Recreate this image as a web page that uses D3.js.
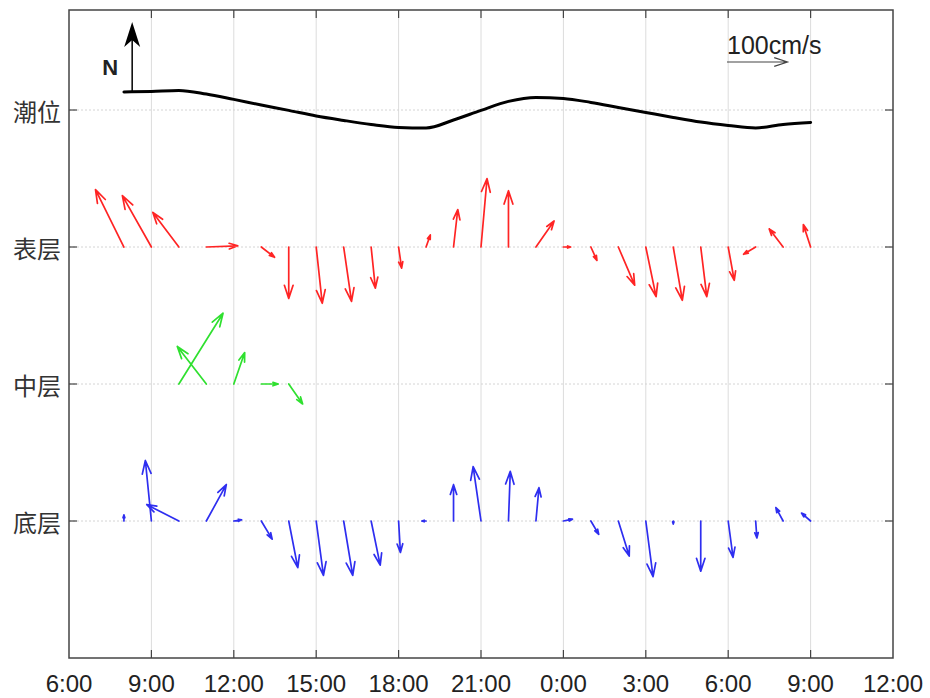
<!DOCTYPE html>
<html>
<head>
<meta charset="utf-8">
<script src="https://cdn.jsdelivr.net/npm/d3@7"></script>
<style>
  html, body { margin: 0; padding: 0; background: #fff; }
  svg { display: block; }
</style>
</head>
<body>
<svg id="chart" width="930" height="698"></svg>
<script>
// ---------------- DATA ----------------
// time ticks (hours from 0:00 of day 1)
const tickHours = [6, 9, 12, 15, 18, 21, 24, 27, 30, 33, 36];
const tickLabels = ["6:00", "9:00", "12:00", "15:00", "18:00", "21:00", "0:00", "3:00", "6:00", "9:00", "12:00"];

// row categories
const rowLabels = ["潮位", "表层", "中层", "底层"];
const rowLevels = [4, 3, 2, 1];

// observation hours (8:00 day 1 ... 9:00 day 2)
const obsHours = [8, 9, 10, 11, 12, 13, 14, 15, 16, 17, 18, 19, 20, 21, 22, 23, 24, 25, 26, 27, 28, 29, 30, 31, 32, 33];

// tide level (m)
const tideLevel = [3.40, 3.43, 3.48, 3.30, 3.03, 2.75, 2.48, 2.20, 1.98, 1.78, 1.63, 1.60, 2.00, 2.48, 2.93, 3.13,
                   3.08, 2.88, 2.63, 2.38, 2.13, 1.90, 1.73, 1.60, 1.78, 1.88];

// surface layer current, east (u) and north (v) components, cm/s
const surfaceU = [-47, -48, -43, 52, null, 22, 0, 10, 13, 7, 5, 7, 7, 10, 0, 30, 12, 10, 27, 17, 15, 10, 10, -20, -23, -12];
const surfaceV = [95, 85, 57, 2, null, -17, -85, -93, -90, -68, -35, 20, 62, 113, 93, 43, 0, -22, -63, -82, -88, -82, -55, -12, 30, 37];

// middle layer current, cm/s
const middleU = [null, null, 73, -48, 18, 28, 23, null, null, null, null, null, null, null, null, null, null, null, null, null, null, null, null, null, null, null];
const middleV = [null, null, 117, 62, 52, 0, -33, null, null, null, null, null, null, null, null, null, null, null, null, null, null, null, null, null, null, null];

// bottom layer current, cm/s
const bottomU = [0, -10, -53, 33, 13, 18, 15, 12, 15, 15, 3, -7, 0, -13, 3, 5, 15, 13, 18, 12, 0, 0, 8, 2, -12, -15];
const bottomV = [10, 100, 27, 60, 2, -30, -77, -90, -90, -73, -52, 0, 60, 90, 82, 55, 3, -22, -58, -92, -5, -83, -60, -28, 22, 13];

const refSpeed = 100; // cm/s scale arrow

// ---------------- SCALES ----------------
const pL = 69, pR = 893, pT = 10, pB = 658;
const svg = d3.select("#chart");

const x = d3.scaleLinear().domain([6, 36]).range([pL, pR]);
const y = d3.scaleLinear().domain([0, 4.73]).range([pB, pT]);
const speed = d3.scaleLinear().domain([0, 100]).range([0, 60.5]);
const tideY = d3.scaleLinear().domain([1, 4]).range([140, 80]);

// ---------------- GRID ----------------
const g = svg.append("g");
g.selectAll("line.vgrid").data(tickHours.slice(1, -1)).join("line")
  .attr("x1", d => x(d)).attr("x2", d => x(d))
  .attr("y1", pT).attr("y2", pB)
  .attr("stroke", "#dcdcdc").attr("stroke-width", 1);
g.append("g").selectAll("line").data(rowLevels).join("line")
  .attr("x1", pL).attr("x2", pR)
  .attr("y1", d => y(d)).attr("y2", d => y(d))
  .attr("stroke", "#d4d4d4").attr("stroke-width", 1).attr("stroke-dasharray", "2,2");

// ---------------- TIDE LINE ----------------
const tidePts = obsHours.map((h, i) => [x(h), tideY(tideLevel[i])]);
g.append("path")
  .attr("d", d3.line().curve(d3.curveMonotoneX)(tidePts))
  .attr("fill", "none").attr("stroke", "#000").attr("stroke-width", 3)
  .attr("stroke-linejoin", "round").attr("stroke-linecap", "round");

// ---------------- ARROWS ----------------
function arrowPath(x0, y0, dx, dy) {
  const len = Math.hypot(dx, dy);
  if (len < 0.5) return "";
  const x1 = x0 + dx, y1 = y0 + dy;
  const ang = Math.atan2(dy, dx);
  const hl = Math.min(0.24 * len + 1.5, 14);
  const ha = 0.32;
  const ax = x1 - hl * Math.cos(ang - ha), ay = y1 - hl * Math.sin(ang - ha);
  const bx = x1 - hl * Math.cos(ang + ha), by = y1 - hl * Math.sin(ang + ha);
  return `M${x0},${y0}L${x1},${y1}M${ax},${ay}L${x1},${y1}L${bx},${by}`;
}

function drawLayer(U, V, level, color) {
  const data = obsHours.map((h, i) => ({h, u: U[i], v: V[i]})).filter(d => d.u !== null && d.v !== null);
  g.append("g").selectAll("path").data(data).join("path")
    .attr("d", d => arrowPath(x(d.h), y(level), speed(d.u), -speed(d.v)))
    .attr("fill", "none").attr("stroke", color).attr("stroke-width", 1.7)
    .attr("stroke-linecap", "round").attr("stroke-linejoin", "round");
}
drawLayer(surfaceU, surfaceV, 3, "#ff2424");
drawLayer(middleU, middleV, 2, "#2fe02f");
drawLayer(bottomU, bottomV, 1, "#2e2ef0");

// ---------------- NORTH ARROW ----------------
const nx = x(8.3), nBase = tideY(tideLevel[0]);
g.append("line").attr("x1", nx).attr("x2", nx).attr("y1", nBase).attr("y2", 38)
  .attr("stroke", "#000").attr("stroke-width", 1.5);
g.append("path")
  .attr("d", `M${nx},22L${nx + 8},47L${nx},40L${nx - 8},47Z`)
  .attr("fill", "#000");
g.append("text").attr("x", nx - 22).attr("y", 75)
  .attr("text-anchor", "middle")
  .attr("font-family", "Liberation Sans, Arial, sans-serif")
  .attr("font-weight", "bold").attr("font-size", 22).attr("fill", "#222")
  .text("N");

// ---------------- SCALE ARROW ----------------
g.append("path")
  .attr("d", arrowPath(727, 62, speed(refSpeed), 0))
  .attr("fill", "none").attr("stroke", "#444").attr("stroke-width", 1.2);
g.append("text").attr("x", 727).attr("y", 54)
  .attr("font-family", "Liberation Sans, Arial, sans-serif")
  .attr("font-size", 25).attr("fill", "#222")
  .text(refSpeed + "cm/s");

// ---------------- FRAME & TICKS ----------------
const tl = 8;
g.append("rect").attr("x", pL).attr("y", pT).attr("width", pR - pL).attr("height", pB - pT)
  .attr("fill", "none").attr("stroke", "#444").attr("stroke-width", 1.5);
const inner = tickHours.slice(1, -1);
g.append("g").selectAll("line").data(inner).join("line")
  .attr("x1", d => x(d)).attr("x2", d => x(d)).attr("y1", pB).attr("y2", pB - tl)
  .attr("stroke", "#444").attr("stroke-width", 1.2);
g.append("g").selectAll("line").data(inner).join("line")
  .attr("x1", d => x(d)).attr("x2", d => x(d)).attr("y1", pT).attr("y2", pT + tl)
  .attr("stroke", "#444").attr("stroke-width", 1.2);
g.append("g").selectAll("line").data(rowLevels).join("line")
  .attr("x1", pL).attr("x2", pL + tl).attr("y1", d => y(d)).attr("y2", d => y(d))
  .attr("stroke", "#444").attr("stroke-width", 1.2);
g.append("g").selectAll("line").data(rowLevels).join("line")
  .attr("x1", pR).attr("x2", pR - tl).attr("y1", d => y(d)).attr("y2", d => y(d))
  .attr("stroke", "#444").attr("stroke-width", 1.2);

// x labels
g.append("g").selectAll("text").data(tickHours).join("text")
  .attr("x", d => x(d)).attr("y", 692)
  .attr("text-anchor", "middle")
  .attr("font-family", "Liberation Sans, Arial, sans-serif")
  .attr("font-size", 24).attr("fill", "#222")
  .text((d, i) => tickLabels[i]);

// y labels
g.append("g").selectAll("text").data(rowLevels).join("text")
  .attr("x", 61).attr("y", d => y(d))
  .attr("text-anchor", "end").attr("dominant-baseline", "central")
  .attr("font-family", "Noto Sans CJK SC, sans-serif")
  .attr("font-size", 24).attr("fill", "#333")
  .text((d, i) => rowLabels[i]);
</script>
</body>
</html>
